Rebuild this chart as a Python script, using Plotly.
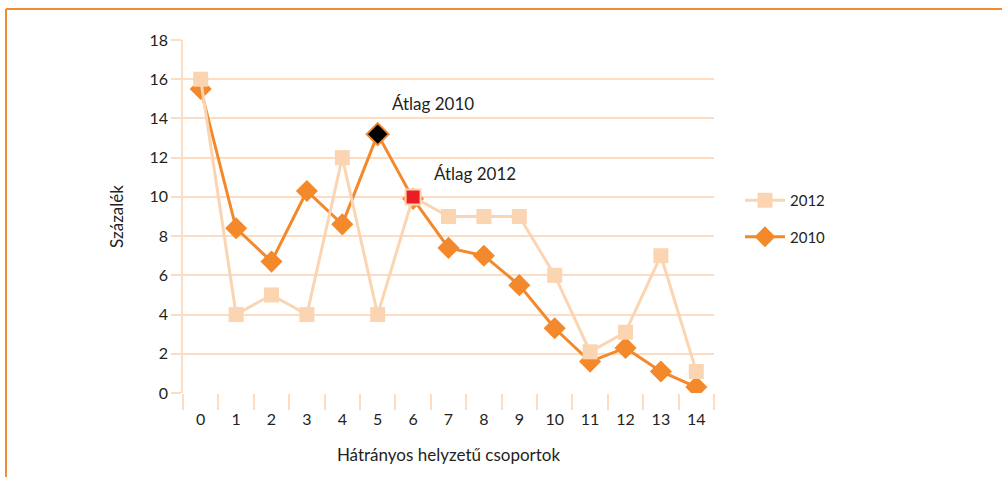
import plotly.graph_objects as go

categories = [str(i) for i in range(15)]
values_2012 = [16, 4, 5, 4, 12, 4, 10, 9, 9, 9, 6, 2.1, 3.1, 7, 1.1]
values_2010 = [15.5, 8.4, 6.7, 10.3, 8.6, 13.2, 9.9, 7.4, 7.0, 5.5, 3.3, 1.6, 2.3, 1.1, 0.3]
avg_2010_idx = 5
avg_2012_idx = 6
y_ticks = list(range(0, 19, 2))

PEACH = "#FBD5B1"
ORANGE = "#F3892B"
GRID = "#FCDDC3"
TXT = "#231F20"
FONT = "Lato"

W, H = 1002, 477
L, R, T, B = 183, 714, 40, 393


def px(x):
    return (x - L) / (R - L)


def py(y):
    return (B - y) / (B - T)


fig = go.Figure()
fig.add_trace(go.Scatter(
    x=categories, y=values_2010, name="2010", mode="lines+markers",
    line=dict(color=ORANGE, width=3),
    marker=dict(symbol="diamond", size=17, color=ORANGE),
    legendrank=2, legendgroup="a",
))
fig.add_trace(go.Scatter(
    x=categories, y=values_2012, name="2012", mode="lines+markers",
    line=dict(color=PEACH, width=3),
    marker=dict(symbol="square", size=15, color=PEACH),
    legendrank=1, legendgroup="b",
))
fig.add_trace(go.Scatter(
    x=[categories[avg_2010_idx]], y=[values_2010[avg_2010_idx]], mode="markers",
    marker=dict(symbol="diamond", size=17, color="#000000", line=dict(color=ORANGE, width=2)),
    showlegend=False,
))
fig.add_trace(go.Scatter(
    x=[categories[avg_2012_idx]], y=[values_2012[avg_2012_idx]], mode="markers",
    marker=dict(symbol="square", size=15, color="#EC1C24", line=dict(color=PEACH, width=2)),
    showlegend=False,
))

fig.add_annotation(x=categories[avg_2010_idx], y=values_2010[avg_2010_idx], text="Átlag 2010",
                   showarrow=False, xanchor="left", yanchor="middle", xshift=12, yshift=31,
                   font=dict(family=FONT, size=17, color=TXT))
fig.add_annotation(x=categories[avg_2012_idx], y=values_2012[avg_2012_idx], text="Átlag 2012",
                   showarrow=False, xanchor="left", yanchor="middle", xshift=19, yshift=23,
                   font=dict(family=FONT, size=17, color=TXT))

# frame
fig.add_shape(type="line", xref="paper", yref="paper", x0=px(6), x1=px(1002), y0=py(9), y1=py(9),
              line=dict(color="#F08C35", width=2))
fig.add_shape(type="line", xref="paper", yref="paper", x0=px(6), x1=px(6), y0=py(9), y1=py(477),
              line=dict(color="#F08C35", width=2))

fig.update_layout(
    width=W, height=H,
    margin=dict(l=L, r=W - R, t=T, b=H - B),
    paper_bgcolor="white", plot_bgcolor="white",
    font=dict(family=FONT, size=15, color=TXT),
    showlegend=True,
    legend=dict(x=px(740), y=py(184), xanchor="left", yanchor="top",
                font=dict(family=FONT, size=15, color=TXT),
                bgcolor="rgba(0,0,0,0)", tracegroupgap=14, itemwidth=40),
    xaxis=dict(
        type="category", range=[-0.5, 14.5], tickson="boundaries", showgrid=False,
        ticks="outside", ticklen=16, tickcolor=GRID, tickwidth=1.5,
        showline=False, zeroline=False, ticklabelstandoff=15,
        tickfont=dict(family=FONT, size=16, color=TXT),
        title=dict(text="Hátrányos helyzetű csoportok", standoff=22,
                   font=dict(family=FONT, size=17, color=TXT)),
    ),
    yaxis=dict(
        range=[0, 18], tickvals=y_ticks, showgrid=True, gridcolor=GRID, gridwidth=1.5,
        ticks="outside", ticklen=10, tickcolor=GRID, tickwidth=1.5,
        showline=True, linecolor=GRID, linewidth=1.5, zeroline=False,
        tickfont=dict(family=FONT, size=16, color=TXT),
        title=dict(text="Százalék", standoff=22,
                   font=dict(family=FONT, size=17, color=TXT)),
    ),
)

fig.write_html("out.html", config={"displayModeBar": False},
               post_script="document.body.style.margin='0px';")
